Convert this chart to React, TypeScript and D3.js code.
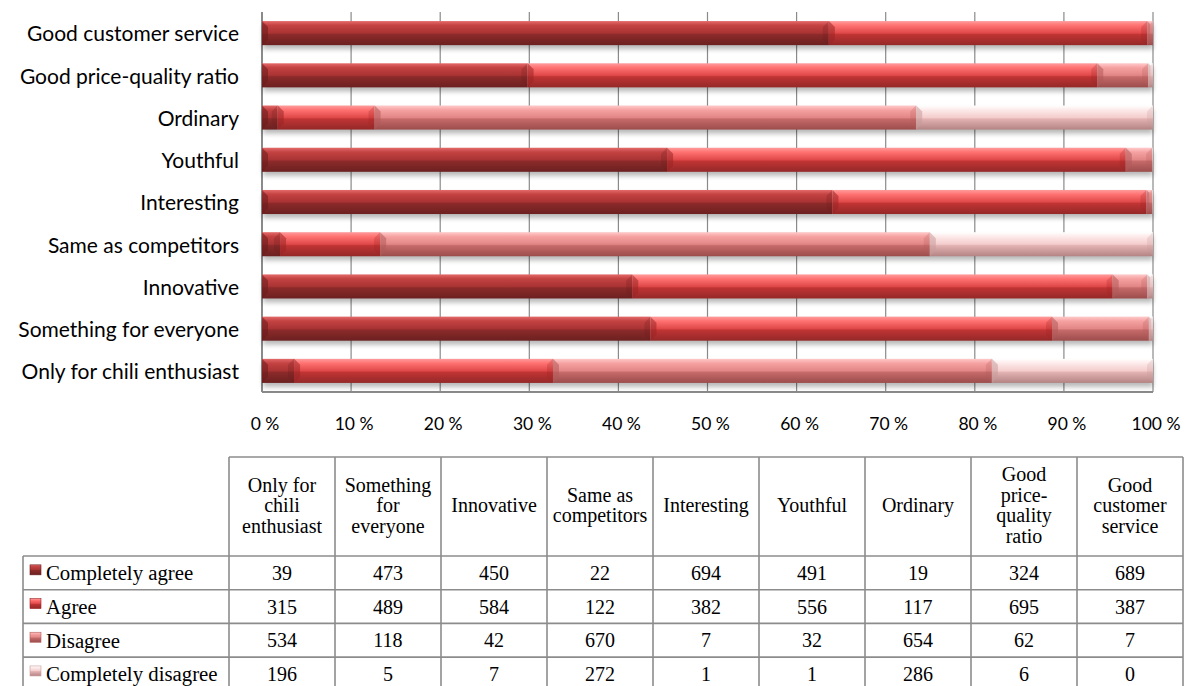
import React from "react";
import * as d3 from "d3";

const categories = [
  "Only for chili enthusiast",
  "Something for everyone",
  "Innovative",
  "Same as competitors",
  "Interesting",
  "Youthful",
  "Ordinary",
  "Good price-quality ratio",
  "Good customer service",
];
const headerLines = [
  ["Only for", "chili", "enthusiast"],
  ["Something", "for", "everyone"],
  ["Innovative"],
  ["Same as", "competitors"],
  ["Interesting"],
  ["Youthful"],
  ["Ordinary"],
  ["Good", "price-", "quality", "ratio"],
  ["Good", "customer", "service"],
];
const seriesNames = ["Completely agree", "Agree", "Disagree", "Completely disagree"];
const completelyAgree = [39, 473, 450, 22, 694, 491, 19, 324, 689];
const agree = [315, 489, 584, 122, 382, 556, 117, 695, 387];
const disagree = [534, 118, 42, 670, 7, 32, 654, 62, 7];
const completelyDisagree = [196, 5, 7, 272, 1, 1, 286, 6, 0];
const tickValues = [0, 0.1, 0.2, 0.3, 0.4, 0.5, 0.6, 0.7, 0.8, 0.9, 1];

const seriesValues = [completelyAgree, agree, disagree, completelyDisagree];

const gradients = [
  ["#e46a6a", "#c44242", "#a93333", "#8c2a2a", "#6c2020"],
  ["#ff9c9c", "#ff7272", "#e04848", "#c03434", "#952828"],
  ["#ffcaca", "#f6a2a2", "#e28686", "#c66a6a", "#9c4c4c"],
  ["#ffffff", "#fdeaea", "#f4cccc", "#e2b2b2", "#b48484"],
];
const bevels = ["#6a1c1c", "#9a2424", "#b35a5a", "#c99a9a"];

export default function App() {
  const W = 1196;
  const H = 686;
  const plot = { left: 262, right: 1153, top: 12, bottom: 392 };

  const rows = categories.map((c, i) => {
    const r: any = { cat: c };
    seriesNames.forEach((s, j) => (r[s] = seriesValues[j][i]));
    return r;
  });
  const stack = d3.stack<any>().keys(seriesNames).offset(d3.stackOffsetExpand);
  const stacked = stack(rows);

  const x = d3.scaleLinear().domain([0, 1]).range([plot.left, plot.right]);
  const y = d3
    .scaleBand<string>()
    .domain([...categories].reverse())
    .range([plot.top, plot.bottom])
    .paddingInner(0.43)
    .paddingOuter(0.215);
  const bh = y.bandwidth();

  // table
  const colX = d3.scaleBand<string>().domain(categories).range([229, 1183]);
  const tableTop = 457;
  const headerBottom = 556;
  const rowY = d3.scaleBand<string>().domain(seriesNames).range([headerBottom, headerBottom + 4 * 33.7]);
  const tableLeft = 23;
  const gridColor = "#8c8c8c";

  return (
    <svg
      width={W}
      height={H}
      style={{ position: "absolute", left: 0, top: 0, background: "#fff" }}
      xmlns="http://www.w3.org/2000/svg"
    >
      <defs>
        {gradients.map((g, i) => (
          <linearGradient key={i} id={`grad${i}`} x1="0" y1="0" x2="0" y2="1">
            <stop offset="0" stopColor={g[0]} />
            <stop offset="0.18" stopColor={g[1]} />
            <stop offset="0.5" stopColor={g[2]} />
            <stop offset="0.56" stopColor={g[3]} />
            <stop offset="1" stopColor={g[4]} />
          </linearGradient>
        ))}
        <filter id="shadow" x="-5%" y="-50%" width="110%" height="200%">
          <feGaussianBlur stdDeviation="2.5" />
        </filter>
      </defs>

      {/* gridlines */}
      {tickValues.map((t) => (
        <line
          key={t}
          x1={x(t)}
          x2={x(t)}
          y1={plot.top}
          y2={plot.bottom}
          stroke="#8a8a8a"
          strokeWidth={t === 0 ? 2 : 1.2}
        />
      ))}
      <line x1={plot.left} x2={plot.right} y1={plot.bottom} y2={plot.bottom} stroke="#8a8a8a" strokeWidth={2} />

      {/* shadows */}
      {categories.map((c) => (
        <rect
          key={"sh" + c}
          x={plot.left + 1}
          y={(y(c) as number) + 4}
          width={plot.right - plot.left - 1}
          height={bh}
          fill="#000"
          opacity={0.28}
          filter="url(#shadow)"
        />
      ))}

      {/* bars */}
      {stacked.map((s, si) =>
        s.map((d, i) => {
          const c = categories[i];
          const x0 = x(d[0]);
          const x1 = x(d[1]);
          const w = x1 - x0;
          if (w <= 0.01) return null;
          const top = y(c) as number;
          const bot = top + bh;
          const b = Math.min(6, w / 2);
          return (
            <g key={si + "-" + i}>
              <rect x={x0} y={top} width={w} height={bh} fill={`url(#grad${si})`} />
              <polygon
                points={`${x0},${top} ${x0 + b},${top + b} ${x0 + b},${bot - b} ${x0},${bot}`}
                fill={bevels[si]}
                opacity={0.55}
              />
              <polygon
                points={`${x1},${top} ${x1 - b},${top + b} ${x1 - b},${bot - b} ${x1},${bot}`}
                fill={bevels[si]}
                opacity={0.25}
              />
            </g>
          );
        })
      )}

      {/* category labels */}
      {categories.map((c) => (
        <text
          key={"lab" + c}
          x={239}
          y={(y(c) as number) + bh / 2 + 1}
          dy="0.35em"
          textAnchor="end"
          fontFamily="Lato, 'Open Sans', sans-serif"
          fontSize={21}
          fill="#000"
        >
          {c}
        </text>
      ))}

      {/* x tick labels */}
      {tickValues.map((t) => (
        <text
          key={"t" + t}
          x={x(t) + 3}
          y={424}
          dy="0.35em"
          textAnchor="middle"
          fontFamily="Lato, 'Open Sans', sans-serif"
          fontSize={17.5}
          fill="#000"
        >
          {`${Math.round(t * 100)} %`}
        </text>
      ))}

      {/* table */}
      <g fontFamily="'Liberation Serif', 'Times New Roman', serif" fontSize={20} fill="#000">
        {/* header */}
        {categories.map((c, i) => {
          const cx = (colX(c) as number) + colX.bandwidth() / 2;
          const lines = headerLines[i];
          const lh = 20.5;
          const mid = (tableTop + headerBottom) / 2 - 1.5;
          const start = mid - ((lines.length - 1) * lh) / 2;
          return (
            <text key={"h" + c} x={cx} textAnchor="middle">
              {lines.map((l, k) => (
                <tspan key={k} x={cx} y={start + k * lh} dy="0.35em">
                  {l}
                </tspan>
              ))}
            </text>
          );
        })}
        {/* data rows */}
        {seriesNames.map((s, si) => {
          const ry = rowY(s) as number;
          const cy = ry + rowY.bandwidth() / 2;
          return (
            <g key={"r" + s}>
              <rect x={30} y={cy - 8} width={11} height={10} fill={`url(#grad${si})`} stroke={bevels[si]} strokeWidth={0.6} />
              <text x={46} y={cy} dy="0.35em" fontSize={20.8}>
                {s}
              </text>
              {categories.map((c, ci) => (
                <text
                  key={c}
                  x={(colX(c) as number) + colX.bandwidth() / 2}
                  y={cy}
                  dy="0.35em"
                  textAnchor="middle"
                >
                  {seriesValues[si][ci]}
                </text>
              ))}
            </g>
          );
        })}
        {/* table lines */}
        <line x1={229} x2={1183} y1={tableTop} y2={tableTop} stroke={gridColor} strokeWidth={1.6} />
        {[0, 1, 2, 3, 4].map((k) => {
          const yy = headerBottom + k * rowY.step();
          return (
            <line key={"hl" + k} x1={tableLeft} x2={1183} y1={yy} y2={yy} stroke={gridColor} strokeWidth={1.6} />
          );
        })}
        <line x1={tableLeft} x2={tableLeft} y1={headerBottom} y2={H + 10} stroke={gridColor} strokeWidth={1.6} />
        {categories.map((c) => (
          <line
            key={"vl" + c}
            x1={colX(c) as number}
            x2={colX(c) as number}
            y1={tableTop}
            y2={H + 10}
            stroke={gridColor}
            strokeWidth={1.6}
          />
        ))}
        <line x1={1183} x2={1183} y1={tableTop} y2={H + 10} stroke={gridColor} strokeWidth={1.6} />
      </g>
    </svg>
  );
}
